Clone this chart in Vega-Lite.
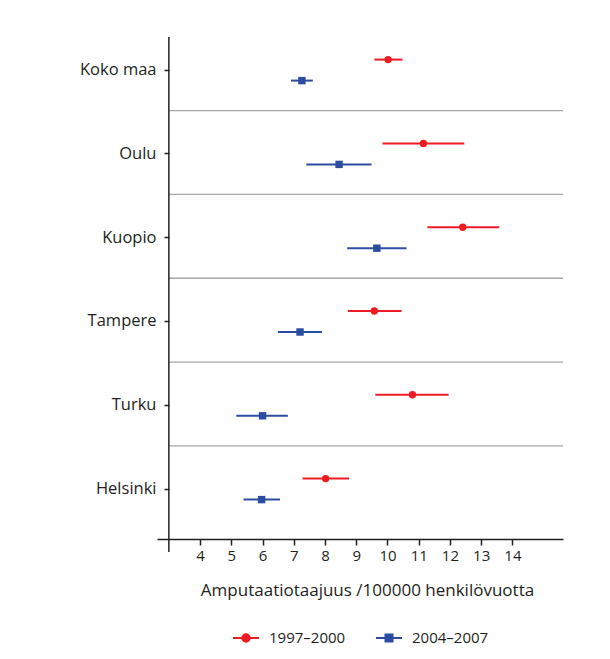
{
  "$schema": "https://vega.github.io/schema/vega-lite/v6.json",
  "width": 406,
  "height": 515,
  "autosize": {"type": "none"},
  "padding": {"left": 157, "top": 37, "right": 47, "bottom": 107},
  "config": {"font": "Open Sans", "view": {"stroke": null}},
  "data": {
    "values": [
      {"city": "Koko maa", "period": "1997–2000", "est": 10.02, "lo": 9.58, "hi": 10.48},
      {"city": "Koko maa", "period": "2004–2007", "est": 7.26, "lo": 6.91, "hi": 7.61},
      {"city": "Oulu", "period": "1997–2000", "est": 11.15, "lo": 9.84, "hi": 12.46},
      {"city": "Oulu", "period": "2004–2007", "est": 8.45, "lo": 7.40, "hi": 9.49},
      {"city": "Kuopio", "period": "1997–2000", "est": 12.41, "lo": 11.28, "hi": 13.58},
      {"city": "Kuopio", "period": "2004–2007", "est": 9.66, "lo": 8.71, "hi": 10.61},
      {"city": "Tampere", "period": "1997–2000", "est": 9.58, "lo": 8.73, "hi": 10.45},
      {"city": "Tampere", "period": "2004–2007", "est": 7.20, "lo": 6.49, "hi": 7.90},
      {"city": "Turku", "period": "1997–2000", "est": 10.80, "lo": 9.61, "hi": 11.96},
      {"city": "Turku", "period": "2004–2007", "est": 6.00, "lo": 5.16, "hi": 6.81},
      {"city": "Helsinki", "period": "1997–2000", "est": 8.02, "lo": 7.28, "hi": 8.77},
      {"city": "Helsinki", "period": "2004–2007", "est": 5.97, "lo": 5.39, "hi": 6.56}
    ]
  },
  "encoding": {
    "y": {
      "field": "city",
      "type": "nominal",
      "sort": ["Koko maa", "Oulu", "Kuopio", "Tampere", "Turku", "Helsinki"],
      "scale": {"type": "band", "range": [-8.9, 493.9], "paddingInner": 0, "paddingOuter": 0},
      "axis": {
        "title": null,
        "offset": -12,
        "domain": false,
        "tickColor": "#231f20",
        "tickWidth": 1.5,
        "tickSize": 5,
        "labelFontSize": 16.5,
        "labelColor": "#231f20",
        "labelPadding": 8,
        "grid": false
      }
    }
  },
  "layer": [
    {
      "transform": [{"filter": "datum.period === '1997–2000' && datum.city !== 'Helsinki'"}],
      "mark": {"type": "rule", "color": "#a6a6a6", "strokeWidth": 1.3},
      "encoding": {
        "y": {"field": "city", "type": "nominal", "bandPosition": 0.985, "sort": ["Koko maa", "Oulu", "Kuopio", "Tampere", "Turku", "Helsinki"]},
        "x": {"datum": 3},
        "x2": {"datum": 15.62}
      }
    },
    {
      "transform": [{"filter": "datum.period === '1997–2000' && datum.city === 'Koko maa'"}],
      "mark": {"type": "rule", "color": "#231f20", "strokeWidth": 1.5},
      "encoding": {
        "x": {"datum": 3},
        "y": null
      }
    },
    {
      "mark": {"type": "rule", "strokeWidth": 2},
      "encoding": {
        "x": {
          "field": "lo",
          "type": "quantitative",
          "scale": {"domain": [2.62, 15.62], "nice": false, "zero": false},
          "axis": {
            "title": "Amputaatiotaajuus /100000 henkilövuotta",
            "offset": -13,
            "values": [4, 5, 6, 7, 8, 9, 10, 11, 12, 13, 14],
            "grid": false,
            "domainColor": "#231f20",
            "domainWidth": 1.5,
            "tickColor": "#231f20",
            "tickWidth": 1.5,
            "tickSize": 6,
            "labelFontSize": 15,
            "labelColor": "#231f20",
            "labelPadding": 3,
            "titleFontSize": 17,
            "titleFontWeight": "normal",
            "titleColor": "#231f20",
            "titlePadding": 19,
            "titleX": 210,
            "titleAlign": "center"
          }
        },
        "x2": {"field": "hi"},
        "yOffset": {"field": "period", "type": "nominal", "scale": {"type": "band", "range": [21, 63], "paddingInner": 0, "paddingOuter": 0}},
        "color": {
          "field": "period",
          "type": "nominal",
          "scale": {"domain": ["1997–2000", "2004–2007"], "range": ["#ed1c24", "#2b4ca0"]},
          "legend": {
            "title": null,
            "orient": "none",
            "legendX": 75,
            "legendY": 587,
            "direction": "horizontal",
            "padding": 0,
            "symbolSize": 676,
            "symbolStrokeWidth": 2,
            "labelFontSize": 15,
            "labelColor": "#231f20",
            "labelOffset": 9,
            "columnPadding": 26,
            "encode": {
              "symbols": {
                "update": {
                  "shape": {"signal": "datum.value === '1997–2000' ? 'M-1,0H1M-0.29,0A0.29,0.29 0 1,1 0.29,0A0.29,0.29 0 1,1 -0.29,0Z' : 'M-1,0H1M-0.27,-0.27H0.27V0.27H-0.27Z'"},
                  "stroke": {"signal": "scale('color', datum.value)"},
                  "fill": {"signal": "scale('color', datum.value)"},
                  "strokeWidth": {"value": 2},
                  "opacity": {"value": 1}
                }
              }
            }
          }
        }
      }
    },
    {
      "mark": {"type": "point", "filled": true, "size": 55, "opacity": 1},
      "encoding": {
        "x": {"field": "est", "type": "quantitative"},
        "yOffset": {"field": "period", "type": "nominal"},
        "color": {"field": "period", "type": "nominal"},
        "shape": {"field": "period", "type": "nominal", "scale": {"range": ["circle", "square"]}, "legend": null}
      }
    }
  ]
}
